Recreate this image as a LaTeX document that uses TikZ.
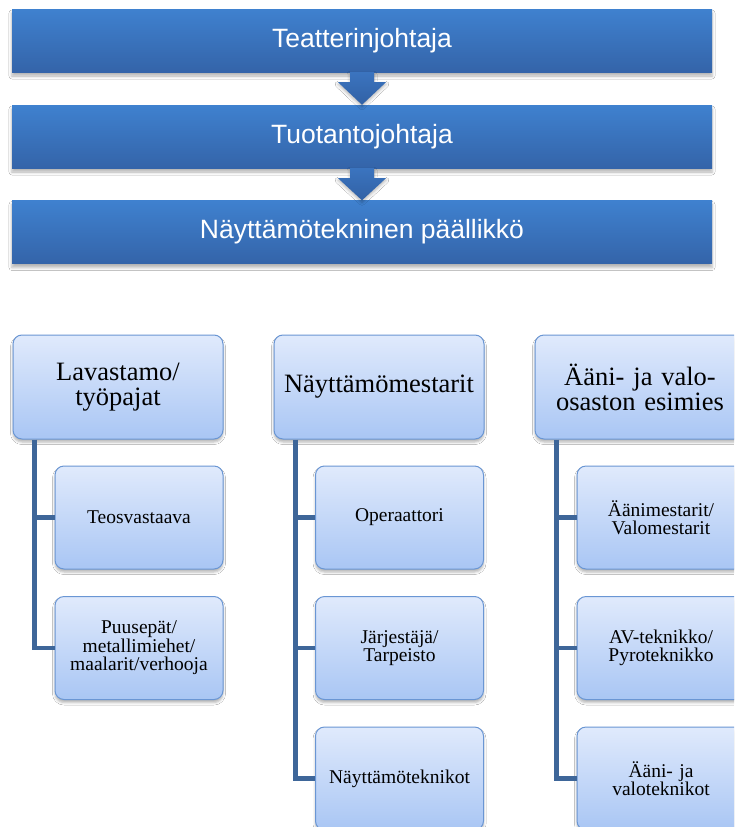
\documentclass[tikz,border=0pt]{standalone}
\usepackage{fontspec}
\setmainfont{Liberation Serif}
\newfontfamily\topfont{Liberation Sans}
\usetikzlibrary{calc,shadows.blur}
\definecolor{topA}{HTML}{3F81CF}
\definecolor{topB}{HTML}{3464A9}
\definecolor{arrA}{HTML}{3B74BF}
\definecolor{arrB}{HTML}{3161A5}
\definecolor{boxA}{HTML}{E0EAFC}
\definecolor{boxB}{HTML}{A9C6F4}
\definecolor{boxE}{HTML}{6A96D4}
\definecolor{connC}{HTML}{3E6699}
\tikzset{
  topbox/.style={rectangle, inner sep=0pt, minimum width=700pt, minimum height=63pt,
    top color=topA, bottom color=topB, text=white,
    font=\topfont\fontsize{26.5}{30}\selectfont,
    blur shadow={shadow xshift=0pt, shadow yshift=-4pt, shadow blur radius=3pt, shadow opacity=30}},
  flowarrow/.style={draw=none, top color=arrA, bottom color=arrB,
    blur shadow={shadow xshift=0pt, shadow yshift=-2pt, shadow blur radius=3pt, shadow opacity=30}},
  headbox/.style={rectangle, rounded corners=9pt, draw=boxE, line width=1pt,
    top color=boxA, bottom color=boxB, text=black, align=center,
    minimum width=210pt, minimum height=104pt, text width=200pt,
    font=\fontsize{26.5}{25}\selectfont,
    blur shadow={shadow xshift=0pt, shadow yshift=-3pt, shadow blur radius=2.5pt, shadow opacity=30}},
  childbox/.style={headbox, minimum width=168pt, minimum height=103pt, text width=160pt,
    font=\fontsize{19.5}{18.5}\selectfont},
  conn/.style={draw=connC, line width=4.5pt}
}
\begin{document}
\begin{tikzpicture}[x=1pt,y=-1pt]
\useasboundingbox (0,0) rectangle (734,827);
\clip (0,0) rectangle (734,827);
\fill[white] (0,0) rectangle (734,827);

% top chain
\node[topbox] (t1) at (362,40.5) {Teatterinjohtaja};
\node[topbox] (t2) at (362,136.5) {Tuotantojohtaja};
\node[topbox] (t3) at (362,232) {Näyttämötekninen päällikkö};

\path[flowarrow] ($(t1.south)+(-12,0)$) -- ($(t1.south)+(12,0)$) -- ($(t1.south)+(12,10)$)
  -- ($(t1.south)+(24,10)$) -- (t2.north) -- ($(t1.south)+(-24,10)$) -- ($(t1.south)+(-12,10)$) -- cycle;
\path[flowarrow] ($(t2.south)+(-12,0)$) -- ($(t2.south)+(12,0)$) -- ($(t2.south)+(12,10)$)
  -- ($(t2.south)+(24,10)$) -- (t3.north) -- ($(t2.south)+(-24,10)$) -- ($(t2.south)+(-12,10)$) -- cycle;

% heads
\node[headbox] (hL) at (118,387) {Lavastamo/\\työpajat};
\node[headbox] (hM) at (379,387) {Näyttämömestarit};
\node[headbox] (hR) at (640,387) {Ääni- ja valo-\\osaston esimies};

% children
\node[childbox] (cL1) at (139,517.5) {Teosvastaava};
\node[childbox] (cL2) at (139,648) {Puusepät/\\metallimiehet/\\maalarit/verhooja};
\node[childbox] (cM1) at (399.5,517.5) {Operaattori};
\node[childbox] (cM2) at (399.5,648) {Järjestäjä/\\Tarpeisto};
\node[childbox] (cM3) at (399.5,778.5) {Näyttämöteknikot};
\node[childbox] (cR1) at (661,517.5) {Äänimestarit/\\Valomestarit};
\node[childbox] (cR2) at (661,648) {AV-teknikko/\\Pyroteknikko};
\node[childbox] (cR3) at (661,778.5) {Ääni- ja\\valoteknikot};

% connectors
\coordinate (lL) at ($(hL.south west)+(22,0)$);
\coordinate (lM) at ($(hM.south west)+(22,0)$);
\coordinate (lR) at ($(hR.south west)+(22,0)$);
\draw[conn] (lL) |- (cL2.west);
\draw[conn] (lL |- cL1.west) -- (cL1.west);
\draw[conn] (lM) |- (cM3.west);
\draw[conn] (lM |- cM1.west) -- (cM1.west);
\draw[conn] (lM |- cM2.west) -- (cM2.west);
\draw[conn] (lR) |- (cR3.west);
\draw[conn] (lR |- cR1.west) -- (cR1.west);
\draw[conn] (lR |- cR2.west) -- (cR2.west);
\end{tikzpicture}
\end{document}
